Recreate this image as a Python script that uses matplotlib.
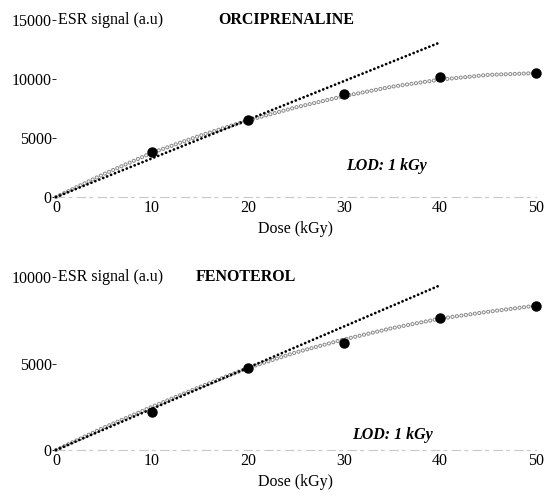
import matplotlib.pyplot as plt
import numpy as np

plt.rcParams['font.family'] = ['Liberation Serif', 'DejaVu Serif']
plt.rcParams['lines.scale_dashes'] = False

# measured points
dose = [10, 20, 30, 40, 50]
orci_signal = [3800, 6500, 8700, 10150, 10500]
feno_signal = [2200, 4770, 6220, 7620, 8310]

# fitted (saturating) curve
fit_dose = [0, 5, 10, 15, 20, 25, 30, 35, 40, 45, 50]
orci_fit = [0, 1950, 3750, 5200, 6500, 7600, 8550, 9350, 9950, 10350, 10500]
feno_fit = [0, 1300, 2500, 3650, 4750, 5650, 6400, 7050, 7600, 8000, 8350]

# linear part (0-40 kGy)
lin_dose = [0, 40]
orci_lin = [0, 13100]
feno_lin = [0, 9530]

panels = [
    dict(name='ORCIPRENALINE', sig=orci_signal, fit=orci_fit, lin=orci_lin,
         ymax=15000, yticks=[0, 5000, 10000, 15000], title_x=16.9,
         lod=(30.2, 2650), rect=[0.1026, 0.6044, 0.879, 0.3554]),
    dict(name='FENOTEROL', sig=feno_signal, fit=feno_fit, lin=feno_lin,
         ymax=10000, yticks=[0, 5000, 10000], title_x=14.6,
         lod=(30.9, 870), rect=[0.1026, 0.0964, 0.879, 0.347]),
]

fig = plt.figure(figsize=(5.46, 4.98), dpi=100)

for p in panels:
    ax = fig.add_axes(p['rect'])
    # open-circle looking fitted curve
    ax.plot(fit_dose, p['fit'], color='#8c8c8c', lw=3.0, dashes=(0.05, 3.2),
            dash_capstyle='round', zorder=2)
    ax.plot(fit_dose, p['fit'], color='white', lw=1.5, dashes=(0.05, 3.2),
            dash_capstyle='round', zorder=3)
    # linear fit
    ax.plot(lin_dose, p['lin'], color='black', lw=2.0, dashes=(0.05, 3.0),
            dash_capstyle='round', zorder=4)
    ax.plot(dose, p['sig'], 'o', color='black', ms=6.5, zorder=5)

    ax.set_xlim(0, 50)
    ax.set_ylim(0, p['ymax'])
    ax.set_xticks([0, 10, 20, 30, 40, 50])
    ax.set_yticks(p['yticks'])
    ax.tick_params(axis='both', labelsize=11.5)
    ax.tick_params(axis='x', length=0, pad=2)
    ax.tick_params(axis='y', length=3, width=0.6, pad=0)
    for s in ['top', 'right', 'left']:
        ax.spines[s].set_visible(False)
    ax.spines['bottom'].set_color('#c8c8c8')
    ax.spines['bottom'].set_linestyle((0, (6, 3, 2, 4)))
    ax.spines['bottom'].set_linewidth(0.8)
    ax.patch.set_alpha(0)
    for ln in ax.lines:
        ln.set_clip_on(False)

    ax.set_xlabel('Dose (kGy)', fontsize=11.5, labelpad=4)
    ax.text(0.2, p['ymax'], 'ESR signal (a.u)', fontsize=11.5, va='center', ha='left')
    ax.text(p['title_x'], p['ymax'], p['name'], fontsize=11.5, fontweight='bold',
            va='center', ha='left')
    ax.text(p['lod'][0], p['lod'][1], 'LOD: 1 kGy', fontsize=11.5, fontweight='bold',
            fontstyle='italic', va='center', ha='left')

fig.savefig('out.png', dpi=100)
